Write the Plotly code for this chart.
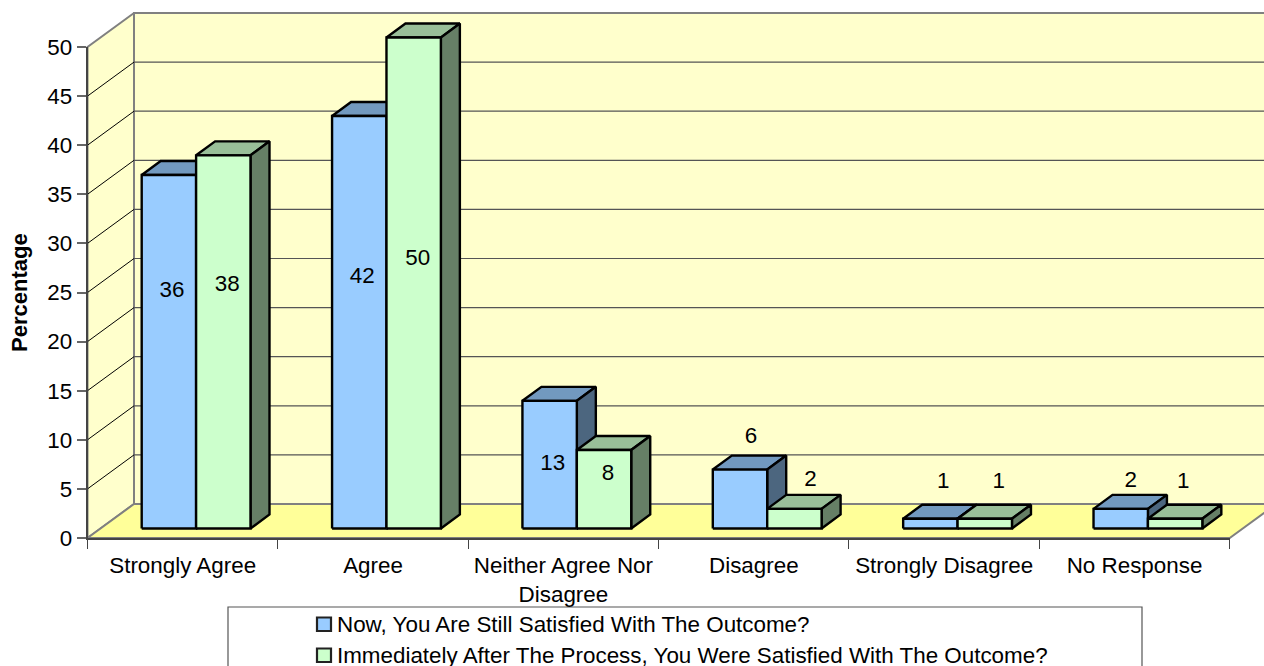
import plotly.graph_objects as go

categories = ["Strongly Agree", "Agree", "Neither Agree Nor<br>Disagree", "Disagree", "Strongly Disagree", "No Response"]
series_now_name = "Now, You Are Still Satisfied With The Outcome?"
series_after_name = "Immediately After The Process, You Were Satisfied With The Outcome?"
now_values = [36, 42, 13, 6, 1, 2]
after_values = [38, 50, 8, 2, 1, 1]
y_ticks = [0, 5, 10, 15, 20, 25, 30, 35, 40, 45, 50]
# where each data label sits (value height on the front plane and shift in category units)
now_label_heights = [25.15, 26.5, 7.5, 10.2, 5.7, 5.8]
after_label_heights = [25.7, 28.4, 6.5, 5.9, 5.7, 5.7]
now_label_shift = [0.016, 0.016, 0.016, 0.058, 0.068, 0.053]
after_label_shift = [0.021, 0.021, 0.021, 0.084, 0.074, 0.042]

W, H = 1264, 666
L, R, T, B = 87.5, 1229.7, 47, 538
UX = (R - L) / 6
UY = (B - T) / 50

def dx(px): return px / UX
def dy(px): return px / UY
def px_x(px): return px / W
def px_y(px): return (H - px) / H

FONT = "Liberation Sans, Arial, sans-serif"
FS = 22.4
WALL_DX, WALL_DY = dx(46.5), dy(34)
BAR_DX, BAR_DY = dx(13.5), dy(9.5)
DEPTH_DX, DEPTH_DY = dx(19), dy(14)
BAR_W = dx(54.4)
BAR_GAP = dx(40.7)

fig = go.Figure()

def poly(xs, ys, fill, line, width, name=None):
    fig.add_trace(go.Scatter(x=xs + xs[:1], y=ys + ys[:1], mode="lines", fill="toself", fillcolor=fill,
                             line=dict(color=line, width=width), hoverinfo="skip", showlegend=False,
                             name=name))

X_END = 6
TOP = 50
WALL_FILL = "#FFFFCC"
FLOOR_FILL = "#FFFF99"
EDGE = "#808080"

# back wall, side wall, floor
poly([WALL_DX, X_END + WALL_DX, X_END + WALL_DX, WALL_DX],
     [WALL_DY, WALL_DY, TOP + WALL_DY, TOP + WALL_DY], WALL_FILL, EDGE, 2)
poly([0, WALL_DX, WALL_DX, 0], [0, WALL_DY, TOP + WALL_DY, TOP], WALL_FILL, EDGE, 2)

# gridlines on both walls
gx, gy, sx, sy = [], [], [], []
for v in y_ticks[1:-1]:
    gx += [WALL_DX, X_END + WALL_DX, None]
    gy += [v + WALL_DY, v + WALL_DY, None]
    sx += [0, WALL_DX, None]
    sy += [v, v + WALL_DY, None]
fig.add_trace(go.Scatter(x=gx, y=gy, mode="lines", line=dict(color="#555555", width=1.2), hoverinfo="skip",
                         showlegend=False))
fig.add_trace(go.Scatter(x=sx, y=sy, mode="lines", line=dict(color="#000000", width=1), hoverinfo="skip",
                         showlegend=False))
poly([0, WALL_DX, X_END + WALL_DX, X_END], [0, WALL_DY, WALL_DY, 0], FLOOR_FILL, EDGE, 2)

def bar(i, s, v, front, top, side, name):
    x0 = i + BAR_DX + BAR_GAP + s * BAR_W
    x1 = x0 + BAR_W
    b = BAR_DY
    t = BAR_DY + v
    poly([x0, x1, x1 + DEPTH_DX, x0 + DEPTH_DX], [t, t, t + DEPTH_DY, t + DEPTH_DY], top, "#000000", 2.4)
    poly([x1, x1 + DEPTH_DX, x1 + DEPTH_DX, x1], [b, b + DEPTH_DY, t + DEPTH_DY, t], side, "#000000", 2.4)
    poly([x0, x1, x1, x0], [b, b, t, t], front, "#000000", 2.4, name)

for i in range(len(categories)):
    bar(i, 0, now_values[i], "#99CCFF", "#7299BF", "#4C667F", series_now_name)
    bar(i, 1, after_values[i], "#CCFFCC", "#99BF99", "#667F66", series_after_name)

# data labels
lx, ly, lt = [], [], []
for i in range(len(categories)):
    base = i + BAR_DX + BAR_GAP
    lx += [base + BAR_W / 2 + now_label_shift[i], base + 1.5 * BAR_W + after_label_shift[i]]
    ly += [now_label_heights[i], after_label_heights[i]]
    lt += [str(now_values[i]), str(after_values[i])]
fig.add_trace(go.Scatter(x=lx, y=ly, mode="text", text=lt, textposition="middle center",
                         textfont=dict(family=FONT, size=FS, color="#000000"), hoverinfo="skip",
                         showlegend=False))

# visible axes live on a second pair of axes, drawn above the polygons
fig.add_trace(go.Scatter(x=[0, X_END], y=[0, TOP], xaxis="x2", yaxis="y2", mode="markers",
                         marker=dict(opacity=0), hoverinfo="skip", showlegend=False))

shapes = [dict(type="rect", xref="paper", yref="paper",
               x0=px_x(228), x1=px_x(1142), y0=px_y(675), y1=px_y(607),
               fillcolor="#FFFFFF", line=dict(color="#555555", width=1.2), layer="below")]
annotations = []
for name, fill, y0, y1, yc in [(series_now_name, "#99CCFF", 617.5, 631, 624), (series_after_name, "#CCFFCC", 648.5, 662, 655)]:
    shapes.append(dict(type="rect", xref="paper", yref="paper",
                       x0=px_x(317), x1=px_x(331), y0=px_y(y1), y1=px_y(y0),
                       fillcolor=fill, line=dict(color="#222222", width=2.2)))
    annotations.append(dict(xref="paper", yref="paper", x=px_x(337), y=px_y(yc),
                            text=name, showarrow=False, xanchor="left", yanchor="middle",
                            xshift=-2, font=dict(family=FONT, size=FS, color="#000000")))
annotations.append(dict(xref="paper", yref="paper", x=px_x(19), y=px_y(293),
                        text="<b>Percentage</b>", textangle=-90, showarrow=False, xanchor="center", yanchor="middle",
                        font=dict(family=FONT, size=22, color="#000000")))

fig.update_layout(
    width=W, height=H, margin=dict(l=0, r=0, t=0, b=0, pad=0, autoexpand=False),
    paper_bgcolor="#FFFFFF", plot_bgcolor="rgba(0,0,0,0)", showlegend=False,
    shapes=shapes, annotations=annotations, hovermode=False,
    xaxis=dict(domain=[0, 1], range=[-L / UX, (W - L) / UX], visible=False),
    yaxis=dict(domain=[0, 1], range=[-(H - B) / UY, B / UY], visible=False),
    xaxis2=dict(domain=[L / W, R / W], anchor="y2", range=[0, X_END], tickmode="array",
                tickvals=[i + 0.5 for i in range(6)], ticktext=categories,
                ticks="", ticklen=0, showgrid=False, zeroline=False, showline=True, linecolor="#444444", linewidth=1.5,
                tickangle=0, ticklabelstandoff=6, tickfont=dict(family=FONT, size=FS, color="#000000"),
                minor=dict(tickmode="array", tickvals=list(range(7)), ticks="outside", ticklen=9, tickcolor="#444444",
                           tickwidth=1, showgrid=False)),
    yaxis2=dict(domain=[(H - B) / H, (H - T) / H], anchor="x2", range=[0, TOP], tickmode="array", tickvals=y_ticks,
                ticks="outside", ticklen=9, tickcolor="#666666",
                tickwidth=1.5, showgrid=False, zeroline=False, showline=True, linecolor="#444444", linewidth=1.5,
                ticklabelstandoff=0, tickfont=dict(family=FONT, size=FS, color="#000000")),
)
fig.write_html("out.html", post_script="document.body.style.margin='0';document.documentElement.style.overflow='hidden';",
               config=dict(displayModeBar=False))
